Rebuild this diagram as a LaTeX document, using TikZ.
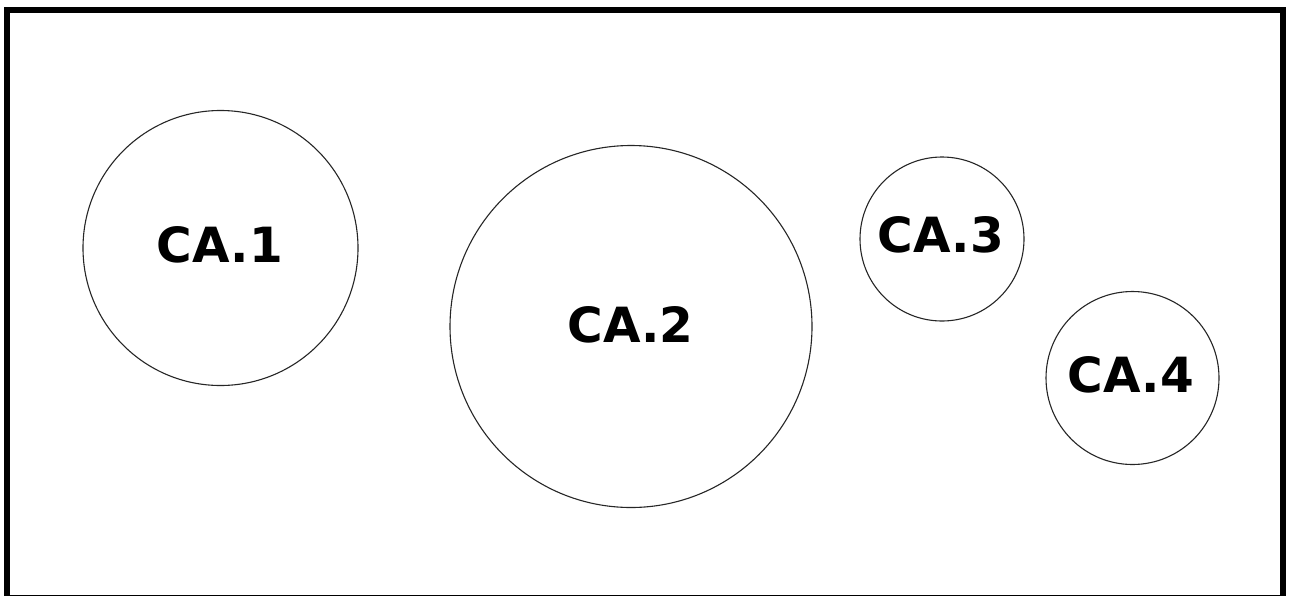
\documentclass[tikz,border=0pt]{standalone}
\usepackage{fontspec}
\setmainfont{DejaVu Sans}
\begin{document}
\begin{tikzpicture}[x=1pt,y=-1pt,
  area/.style={circle,draw=black!85,line width=1.1pt,inner sep=0pt,minimum size=#1},
  tag/.style={anchor=base,inner sep=0pt,font=\fontsize{48.5}{58}\selectfont\bfseries}]
  \useasboundingbox (0,0) rectangle (1290,595);
  \clip (0,0) rectangle (1290,595);
  \fill[white] (0,0) rectangle (1290,595);
  % outer frame
  \draw[line width=5.5pt] (7,10) rectangle (1283,597.5);
  % areas
  \node[area=275pt] (c1) at (220.5,248) {};
  \node[area=362pt] (c2) at (631,326.5) {};
  \node[area=164pt] (c3) at (942,239) {};
  \node[area=173pt] (c4) at (1132.5,378) {};
  % labels
  \node[tag] (l1) at (220,262) {CA.1};
  \node[tag] (l2) at (630.5,342) {CA.2};
  \node[tag] (l3) at (941,252) {CA.3};
  \node[tag] (l4) at (1131,392) {CA.4};
\end{tikzpicture}
\end{document}
